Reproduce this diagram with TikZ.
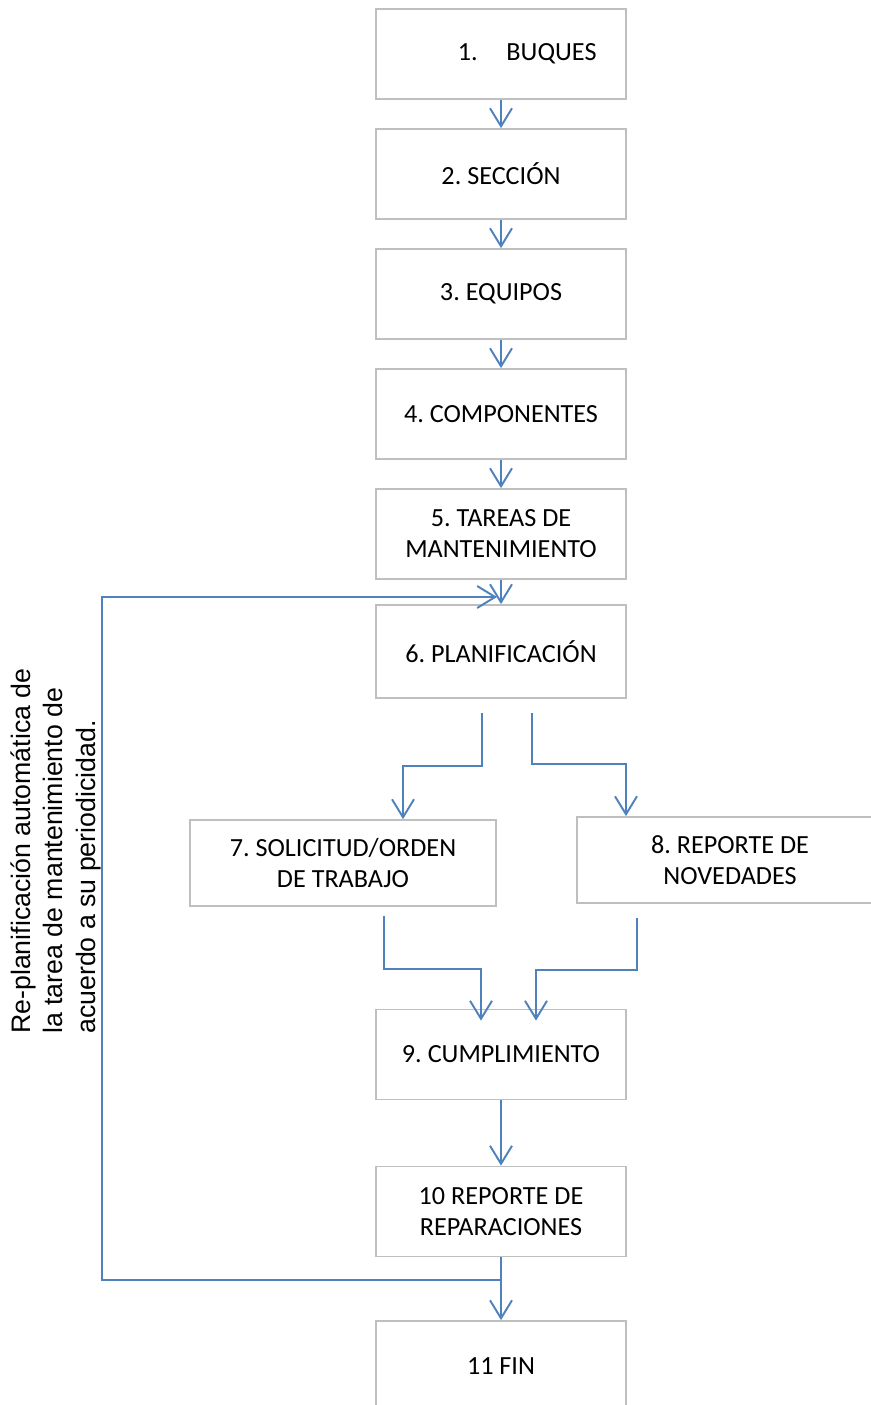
\documentclass[tikz,border=0pt]{standalone}
\usepackage{fontspec}
\setmainfont{Carlito}
\newfontfamily\arialfont{Liberation Sans}
\usetikzlibrary{arrows.meta,positioning}
\frenchspacing

\definecolor{flujo}{RGB}{79,129,189}
\definecolor{borde}{RGB}{191,191,191}

\begin{document}
\begin{tikzpicture}[x=0.02cm,y=-0.02cm,
		caja/.style={draw=borde,line width=1pt,minimum width=5cm,minimum height=1.8cm,
			align=center,inner sep=0pt,font=\fontsize{14.9}{17.6}\selectfont},
		flecha/.style={draw=flujo,line width=1.1pt,-{Straight Barb[length=3.6mm,width=4.4mm]}}]
		\useasboundingbox (0,0) rectangle (870,1405);
		
		% main column
		\node[caja] (b1) at (501,54) {\hspace*{2em}1.\hspace{1.1em}BUQUES};
		\node[caja] (b2) at (501,174) {2. SECCIÓN};
		\node[caja] (b3) at (501,294) {3. EQUIPOS};
		\node[caja] (b4) at (501,414) {4. COMPONENTES};
		\node[caja] (b5) at (501,534) {5. TAREAS DE\\MANTENIMIENTO};
		\node[caja,minimum height=1.86cm] (b6) at (501,651.5) {6. PLANIFICACIÓN};
		
		% branches
		\node[caja,minimum width=6.12cm,minimum height=1.72cm] (b7) at (343,863) {7. SOLICITUD/ORDEN\\DE TRABAJO};
		\node[caja,minimum width=6.12cm,minimum height=1.72cm] (b8) at (730,860) {8. REPORTE DE\\NOVEDADES};
		
		% lower column
		\node[caja] (b9) at (501,1054.5) {9. CUMPLIMIENTO};
		\node[caja] (b10) at (501,1211.5) {10 REPORTE DE\\REPARACIONES};
		\node[caja] (b11) at (501,1366) {11 FIN};
		
		% straight arrows
		\foreach \a/\b in {b1/b2,b2/b3,b3/b4,b4/b5,b5/b6,b9/b10,b10/b11}{
			\draw[flecha] (\a) -- (\b);
		}
		
		% split after planning
		\draw[flecha] ([shift={(-19,14)}]b6.south) |- ([shift={(60,-53)}]b7.north) -- ([shift={(60,0)}]b7.north);
		\draw[flecha] ([shift={(31,14)}]b6.south) |- ([shift={(-104,-52)}]b8.north) -- ([shift={(-104,0)}]b8.north);
		
		% merge into fulfilment
		\draw[flecha] ([shift={(41,9)}]b7.south) |- ([shift={(-20,-40)}]b9.north) -- ([shift={(-20,12)}]b9.north);
		\draw[flecha] ([shift={(-93,14)}]b8.south) |- ([shift={(35,-39)}]b9.north) -- ([shift={(35,12)}]b9.north);
		
		% feedback loop
		\coordinate (junta) at (501,1280);
		\coordinate (retorno) at (497,597);
		\draw[flecha] (junta) -- (102,1280) -- (102,597) -- (retorno);
		\node[rotate=90,anchor=north west,align=left,inner sep=0pt,
			font=\arialfont\fontsize{15.2}{18.7}\selectfont] (nota) at (10,1034)
			{Re-planificación automática de\\la tarea de mantenimiento de\\acuerdo a su periodicidad.};
	\end{tikzpicture}
\end{document}
